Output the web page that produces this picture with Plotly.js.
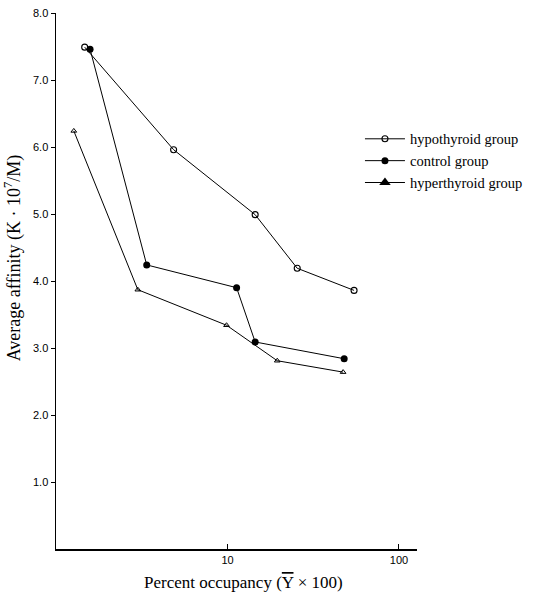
<!DOCTYPE html>
<html>
<head>
<meta charset="utf-8">
<script src="https://cdn.plot.ly/plotly-3.0.1.min.js"></script>
<style>html,body{margin:0;padding:0;background:#fff;}#chart{width:547px;height:596px;}</style>
</head>
<body>
<div id="chart"></div>
<script>
// Data
const hypoX = [1.47, 4.85, 14.5, 25.5, 54.7];
const hypoY = [7.49, 5.96, 4.99, 4.19, 3.86];
const ctrlX = [1.58, 3.38, 11.3, 14.5, 47.9];
const ctrlY = [7.46, 4.24, 3.90, 3.09, 2.84];
const hyperX = [1.27, 3.0, 9.87, 19.5, 47.2];
const hyperY = [6.24, 3.87, 3.34, 2.81, 2.64];
const seriesNames = ["hypothyroid group", "control group", "hyperthyroid group"];
const yTickVals = [1, 2, 3, 4, 5, 6, 7, 8];
const yTickText = ["1.0", "2.0", "3.0", "4.0", "5.0", "6.0", "7.0", "8.0"];
const xTickVals = [10, 100];
const xTickText = ["10", "100"];

const serif = "Liberation Serif, DejaVu Serif, serif";

const traces = [
  {x: hypoX, y: hypoY, mode: "lines+markers", name: seriesNames[0],
   line: {color: "#000", width: 1},
   marker: {symbol: "circle-open", size: 6, color: "#000", line: {width: 1.1}}},
  {x: ctrlX, y: ctrlY, mode: "lines+markers", name: seriesNames[1],
   line: {color: "#000", width: 1},
   marker: {symbol: "circle", size: 7, color: "#000"}},
  {x: hyperX, y: hyperY, mode: "lines+markers", name: seriesNames[2], showlegend: false,
   line: {color: "#000", width: 1},
   marker: {symbol: "triangle-up-open", size: 5, color: "#000", line: {width: 1}}},
  {x: [null], y: [null], mode: "lines+markers", name: seriesNames[2],
   line: {color: "#000", width: 1},
   marker: {symbol: "triangle-up", size: 10, color: "#000"}}
];

const layout = {
  width: 547, height: 596,
  margin: {l: 56, r: 130, t: 13, b: 47},
  paper_bgcolor: "#fff", plot_bgcolor: "#fff",
  font: {family: serif, color: "#000", size: 12},
  showlegend: true,
  legend: {x: 0.842, y: 0.795, xanchor: "left", yanchor: "top",
           font: {family: serif, size: 14.5, color: "#000"},
           itemwidth: 40,
           bgcolor: "rgba(0,0,0,0)", tracegroupgap: 0},
  xaxis: {type: "log", range: [0, 2.105], showgrid: false, zeroline: false,
          showline: true, linecolor: "#000", linewidth: 1.5,
          tickvals: xTickVals, ticktext: xTickText, ticks: "inside", ticklen: 5,
          tickcolor: "#000", tickfont: {family: "Liberation Sans, sans-serif", size: 11}},
  yaxis: {range: [0, 8], showgrid: false, zeroline: false,
          showline: true, linecolor: "#000", linewidth: 1.5,
          tickvals: yTickVals, ticktext: yTickText, ticks: "outside", ticklen: 4,
          tickcolor: "#000", tickfont: {family: "Liberation Sans, sans-serif", size: 11}},
  annotations: [
    {text: "Average affinity (K · 10<sup>7</sup>/M)", textangle: -90,
     xref: "paper", yref: "paper", x: -0.118, y: 0.543, xanchor: "center", yanchor: "middle",
     showarrow: false, font: {family: serif, size: 18, color: "#000"}},
    {text: "Percent occupancy (<span style='text-decoration:overline'>Y</span> × 100)",
     xref: "paper", yref: "paper", x: 0.52, y: -0.062, xanchor: "center", yanchor: "middle",
     showarrow: false, font: {family: serif, size: 17, color: "#000"}}
  ]
};

Plotly.newPlot("chart", traces, layout, {displayModeBar: false, staticPlot: true});
</script>
</body>
</html>
